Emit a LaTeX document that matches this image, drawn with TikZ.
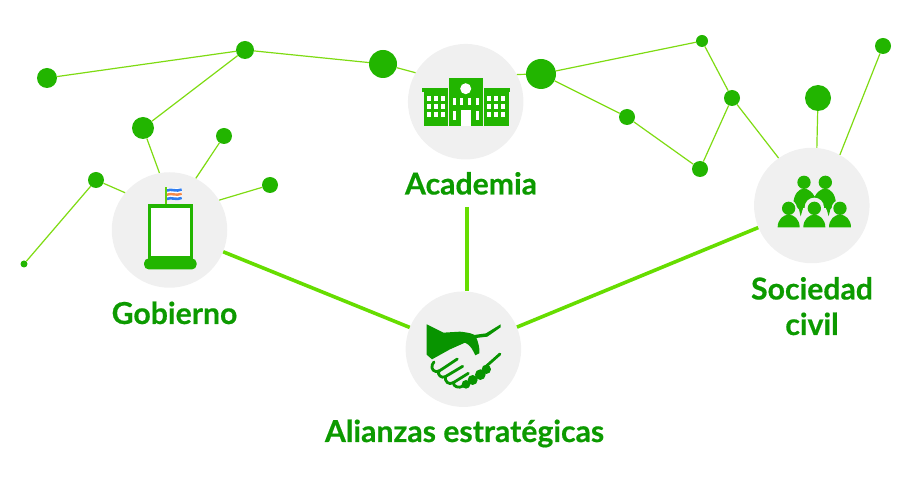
\documentclass[tikz,border=0pt]{standalone}
\usepackage{fontspec}
\setmainfont[BoldFeatures={FakeBold=0.5}]{Lato}
\definecolor{dotgreen}{HTML}{22B500}
\definecolor{linegreen}{HTML}{7EDB12}
\definecolor{thickgreen}{HTML}{66DD00}
\definecolor{textgreen}{HTML}{0C9A00}
\definecolor{handgreen}{HTML}{089400}
\definecolor{hubgrey}{HTML}{F0F0F0}
\definecolor{flagblue}{HTML}{2F7DF0}
\definecolor{flagorange}{HTML}{F58A4B}
\tikzset{
  dotnode/.style={circle,fill=dotgreen,inner sep=0pt,minimum size=#1},
  hubnode/.style={circle,fill=hubgrey,inner sep=0pt,minimum size=115.5pt},
  thinlink/.style={draw=linegreen,line width=1.2pt},
  thicklink/.style={draw=thickgreen,line width=3.6pt},
  lbl/.style={text=textgreen,font=\bfseries\fontsize{30.2}{36}\selectfont,inner sep=0pt,align=center,anchor=base},
  iconfill/.style={fill=dotgreen},
}
\begin{document}
\begin{tikzpicture}[x=1pt,y=-1pt]
\useasboundingbox (0,0) rectangle (906,486);
% hubs
\node[hubnode] (acad) at (465.7,101.7) {};
\node[hubnode] (gob) at (169.5,230) {};
\node[hubnode] (hand) at (463.4,349.2) {};
\node[hubnode] (soc) at (811.8,205.5) {};
% dots
\node[dotnode=20pt] (d1) at (47,78) {};
\node[dotnode=18pt] (d2) at (245,50) {};
\node[dotnode=28pt] (d3) at (383,64) {};
\node[dotnode=30pt] (d4) at (541,74) {};
\node[dotnode=12pt] (d5) at (702,41) {};
\node[dotnode=16pt] (d6) at (732,98) {};
\node[dotnode=16pt] (d7) at (627,117) {};
\node[dotnode=16pt] (d8) at (700,169) {};
\node[dotnode=26pt] (d9) at (818,98) {};
\node[dotnode=16pt] (d10) at (883,46) {};
\node[dotnode=22pt] (d11) at (143,128) {};
\node[dotnode=16pt] (d12) at (224,136) {};
\node[dotnode=16pt] (d13) at (270,185) {};
\node[dotnode=16pt] (d14) at (96,180) {};
\node[dotnode=7pt] (d15) at (24,264) {};
% labels
\node[lbl] (lacad) at (471,194.5) {Academia};
\node[lbl] (lgob) at (174.5,324) {Gobierno};
\node[lbl] (lhand) at (464.5,442) {Alianzas estratégicas};
\node[lbl] (lsoc1) at (812,299.5) {Sociedad};
\node[lbl] (lsoc2) at (812,335) {civil};
\coordinate (acadfoot) at (467,207);
% thin links
\draw[thinlink] (d1)--(d2);
\draw[thinlink] (d2)--(d3);
\draw[thinlink] (d3)--(acad.150);
\draw[thinlink] (acad.28)--(d4);
\draw[thinlink] (d4)--(d5);
\draw[thinlink] (d4)--(d7);
\draw[thinlink] (d7)--(d8);
\draw[thinlink] (d8)--(d6);
\draw[thinlink] (d5)--(d6);
\draw[thinlink] (d6)--(soc.125);
\draw[thinlink] (d9)--(soc.85);
\draw[thinlink] (d10)--(soc.61);
\draw[thinlink] (d2)--(d11);
\draw[thinlink] (d11)--(gob.100);
\draw[thinlink] (d12)--(gob.63);
\draw[thinlink] (d13)--(gob.31);
\draw[thinlink] (d14)--(gob.140);
\draw[thinlink] (d15)--(d14);
% thick links
\draw[thicklink] (gob)--(hand);
\draw[thicklink] (acadfoot)--(acadfoot |- hand.north);
\draw[thicklink] (hand)--(soc);
% --- school icon
\fill[iconfill] (449,78) rectangle (482.5,126);
\fill[iconfill] (423.5,92) rectangle (448,126);
\fill[iconfill] (422,88.3) rectangle (448,92.5);
\fill[iconfill] (484.3,92) rectangle (508.5,126);
\fill[iconfill] (484.3,88.3) rectangle (510,92.5);
\foreach \xx in {426.7,433.5,440.7,486.7,493.7,501}
 \foreach \yy in {96,104,111.7}
  \fill[white] (\xx,\yy) rectangle ++(4.2,5.4);
\fill[white] (465.7,88.7) circle (5.5);
\foreach \xx in {452.7,460,468,476}
  \fill[white] (\xx,98.3) rectangle ++(3,6.7);
\fill[white] (452.7,110.7) rectangle ++(3,9.6);
\fill[white] (476,110.7) rectangle ++(3,9.6);
\fill[white] (460.7,110) rectangle (471,126);
% --- lectern icon
\fill[iconfill] (148,204.3) rectangle (192.7,260);
\fill[white] (150.7,208.3) rectangle (190,256);
\fill[iconfill,rounded corners=5pt] (144,258.3) rectangle (196.7,269.5);
\draw[linegreen!70!dotgreen,line width=1.4pt] (166,187.3)--(166,204.3);
\fill[white] (167,188.3) rectangle (181.7,200.3);
\draw[flagblue,line width=2.6pt] (167,190.5) .. controls (171,188.5) and (176,192) .. (181.7,189.6);
\draw[flagorange,line width=2.4pt] (167,194.7) .. controls (171,192.7) and (176,196.2) .. (181.7,193.8);
\draw[flagblue,line width=2.6pt] (167,198.9) .. controls (171,196.9) and (176,200.4) .. (181.7,198);
% --- handshake icon
\begin{scope}[shift={(400,290)},x=0.3333pt,y=-0.3333pt]
\fill[handgreen] (80,103) -- (130,128) -- (180,125) .. controls (205,128) and (222,130) .. (228,140)
 .. controls (236,160) and (240,178) .. (238,190) -- (226,196) .. controls (218,180) and (212,165) .. (195,158)
 -- (150,178) -- (96,208) -- (80,194) -- cycle;
\fill[handgreen] (222,135) -- (258,130) -- (302,103) -- (302,112) -- (262,140) -- (228,144) -- cycle;
\begin{scope}[handgreen,line width=2.8pt,line cap=round,line join=round]
\draw (102,216) .. controls (92,226) and (94,242) .. (108,245) .. controls (115,246) and (122,240) .. (130,235) -- (172,207);
\draw (116,243) .. controls (112,255) and (124,266) .. (136,260) -- (188,229);
\draw (136,260) .. controls (134,275) and (146,286) .. (160,278) -- (205,250);
\draw (160,278) .. controls (160,290) and (176,296) .. (190,288);
\draw (255,232) -- (300,192);
\end{scope}
\fill[handgreen] (198,283) circle (13);
\fill[handgreen] (218,270) circle (15);
\fill[handgreen] (241,254) circle (16);
\fill[handgreen] (259,238) circle (14);
\end{scope}
% --- people icon
\begin{scope}[shift={(750,150)},x=0.3333pt,y=-0.3333pt]
\fill[iconfill] (162,97) circle (20);
\fill[iconfill] (226,97) circle (20);
\fill[iconfill] (130,160) .. controls (132,132) and (146,116) .. (162,116) .. controls (176,116) and (188,128) .. (194,140) .. controls (200,128) and (212,116) .. (226,116) .. controls (242,116) and (256,132) .. (258,160) -- (241,178) -- (236,199) -- (230,178) -- (158,178) -- (152,199) -- (147,178) -- cycle;
\fill[hubgrey] (193,172) circle (29);
\fill[hubgrey] (160,174) rectangle (227,205);
\foreach \cx in {116,193,270}{
 \fill[hubgrey] (\cx,175) circle (25);
 \draw[hubgrey,line width=2.4pt] (\cx-33,232) .. controls (\cx-33,208) and (\cx-16,194) .. (\cx,194) .. controls (\cx+16,194) and (\cx+33,208) .. (\cx+33,232);
}
\foreach \cx in {116,193,270}{
 \fill[iconfill] (\cx-33,232) .. controls (\cx-33,208) and (\cx-16,194) .. (\cx,194) .. controls (\cx+16,194) and (\cx+33,208) .. (\cx+33,232) -- cycle;
 \fill[iconfill] (\cx,175) circle (20);
}
\end{scope}
\end{tikzpicture}
\end{document}
